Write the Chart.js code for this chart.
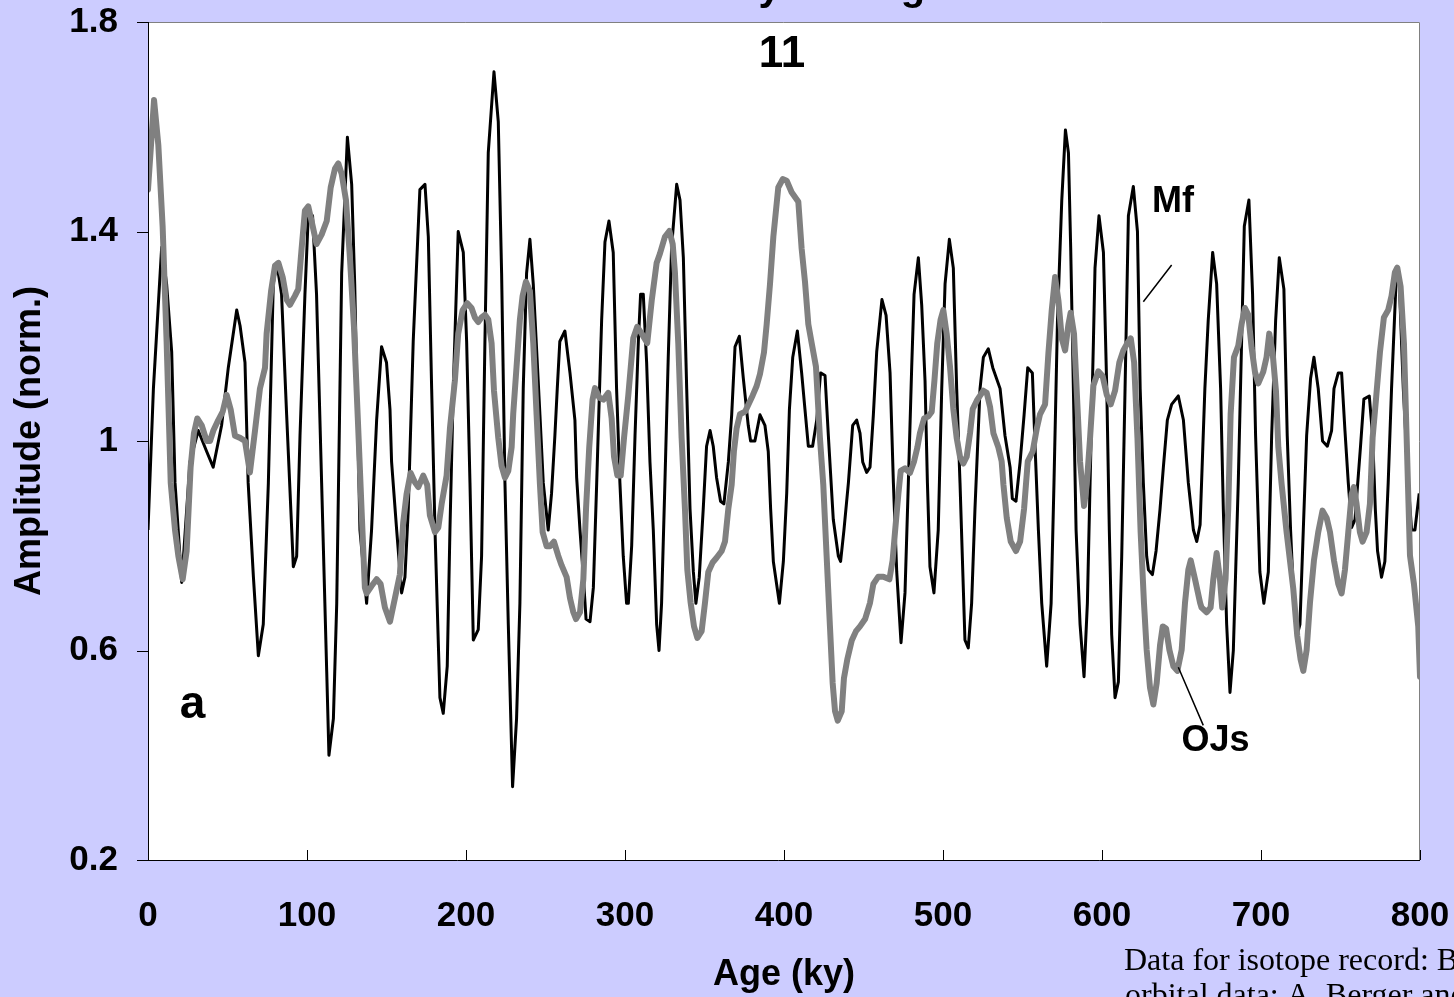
<!DOCTYPE html>
<html>
<head>
<meta charset="utf-8">
<title>Mf and OJs amplitude</title>
<script src="https://cdn.jsdelivr.net/npm/chart.js@4.4.1/dist/chart.umd.min.js"></script>
<style>
  html, body { margin: 0; padding: 0; background: #ccccff; }
  canvas { display: block; }
</style>
</head>
<body>
<canvas id="ampChart" width="1454" height="997"></canvas>
<script>
// Amplitude (norm.) against age (ky)

// Mf - thin black curve
const mfAge = [
  0, 3.4, 8.6, 11.7, 14.9, 17, 21.2, 26.4, 31.6, 36.9, 41, 46.3, 50.5, 55.8, 57.9, 61, 63, 66.3, 69.4, 72.5,
  75.7, 78.8, 81, 84, 87.2, 90.4, 91.4, 93.5, 95.6, 98.7, 100.8, 103.5, 106, 109.2, 112.4, 113.8, 116.6, 118.7, 121.8, 125.4,
  128.1, 130, 133.3, 137.5, 140.6, 143.8, 146.9, 150, 152.2, 153.2, 156.4, 159.5, 161.6, 163.7, 166.8, 171, 174.2, 176.3, 178.4, 180.5,
  183.6, 185.7, 188.2, 189.9, 192, 195.1, 198.3, 200.4, 202.5, 204.6, 207.7, 209.8, 211.9, 214, 217.6, 220.3, 222.4, 224.5, 226.6, 229.3,
  231.8, 233.9, 236, 238.1, 240.2, 242.3, 246.5, 248.6, 251.7, 253.8, 255.9, 257.4, 259, 262.2, 265.4, 268.5, 269.6, 271.7, 273.8, 275.5,
  278, 280.1, 282.2, 285.3, 287.4, 289.9, 292.6, 294.7, 296.8, 298.9, 301, 302.1, 304.2, 306.3, 308.4, 309.8, 311.5, 313.6, 315.7, 317.8,
  319.9, 321.4, 323, 325.1, 327.2, 329.3, 332.5, 334.6, 336.7, 338.8, 340.9, 343, 344.6, 346.7, 349.2, 351.3, 353.5, 355.5, 357.6, 360.1,
  362.2, 365, 367.1, 369.2, 371.9, 374.4, 377.5, 379, 381.7, 384.9, 388, 390.1, 391.6, 393.3, 397.1, 399.6, 401.7, 403.4, 405.5, 408.4,
  411.1, 413.2, 415.3, 418, 420.6, 423, 425.8, 427.9, 431, 434.2, 435.6, 437.7, 440.5, 443.2, 445.7, 447.8, 449.5, 452, 454.1, 456.2,
  458.3, 461.6, 464.2, 466.7, 468.8, 470.9, 473.6, 476.1, 478.2, 480.3, 481.8, 484.5, 486.6, 488.7, 490.2, 491.8, 494.3, 497, 499.2, 501.3,
  504, 506.5, 508.6, 510.7, 513.8, 515.9, 518, 520.1, 523.3, 525.4, 528.5, 531.3, 535.9, 539, 542.2, 543.6, 545.9, 548.5, 551, 553.3,
  556.2, 557.9, 560, 562.1, 565.2, 568, 569.8, 572, 574.7, 577, 578.9, 580.3, 582, 583.7, 586.2, 588.7, 590.8, 592.5, 594.6, 595.6,
  598.1, 600.9, 603, 604.6, 606.1, 608.2, 610.3, 612.4, 614.5, 616.6, 619.7, 622.3, 624, 626, 628.1, 629.2, 631.7, 634, 636.5, 638.6,
  641.1, 643.8, 648, 651.2, 654.3, 657.5, 659.6, 661.7, 664.7, 666.8, 669.6, 672.1, 674.6, 676.3, 678.4, 680.5, 682.6, 685.7, 687.8, 689.5,
  692.4, 694.7, 696.6, 699.3, 701.8, 704.6, 706.7, 709.2, 711.5, 714.4, 716.5, 718.6, 720.7, 722.8, 724.5, 726.6, 728.7, 731.2, 733.3, 736,
  738.7, 741.7, 744.4, 745.9, 748.6, 750.7, 752.8, 754.9, 757, 759.1, 762.6, 764.7, 768.1, 770.2, 771.9, 773.3, 775.8, 777.9, 780, 782.1,
  785.3, 787, 789.5, 792.6, 794.7, 796.8, 799.5
];
const mfAmp = [
  0.83, 1.10, 1.37, 1.30, 1.17, 0.92, 0.73, 0.96, 1.02, 0.98, 0.95, 1.03, 1.14, 1.25, 1.22, 1.15, 0.92, 0.74, 0.59, 0.65,
  0.92, 1.30, 1.34, 1.28, 1.05, 0.83, 0.76, 0.78, 1.01, 1.28, 1.43, 1.43, 1.28, 0.92, 0.56, 0.40, 0.47, 0.69, 1.32, 1.58,
  1.49, 1.30, 0.83, 0.69, 0.83, 1.04, 1.18, 1.15, 1.06, 0.96, 0.83, 0.71, 0.74, 0.87, 1.19, 1.48, 1.49, 1.39, 1.10, 0.83,
  0.51, 0.48, 0.57, 0.83, 1.10, 1.40, 1.36, 1.19, 0.92, 0.62, 0.64, 0.78, 1.19, 1.55, 1.705, 1.61, 1.32, 0.92, 0.65, 0.34,
  0.47, 0.69, 1.10, 1.32, 1.385, 1.30, 1.05, 0.92, 0.83, 0.90, 1.01, 1.10, 1.19, 1.21, 1.13, 1.04, 0.93, 0.83, 0.74, 0.66,
  0.655, 0.72, 0.92, 1.23, 1.38, 1.42, 1.36, 1.10, 0.92, 0.78, 0.69, 0.69, 0.80, 1.01, 1.19, 1.28, 1.28, 1.15, 0.96, 0.83,
  0.65, 0.60, 0.69, 0.92, 1.16, 1.37, 1.49, 1.46, 1.35, 1.10, 0.87, 0.75, 0.69, 0.74, 0.87, 0.99, 1.02, 0.99, 0.93, 0.885,
  0.88, 0.96, 1.05, 1.18, 1.20, 1.12, 1.03, 1.00, 1.00, 1.05, 1.03, 0.98, 0.87, 0.77, 0.69, 0.77, 0.90, 1.06, 1.16, 1.21,
  1.13, 1.06, 0.99, 0.99, 1.04, 1.13, 1.125, 1.01, 0.85, 0.78, 0.77, 0.83, 0.92, 1.03, 1.04, 1.015, 0.96, 0.94, 0.95, 1.05,
  1.17, 1.27, 1.24, 1.13, 0.92, 0.75, 0.615, 0.71, 0.92, 1.14, 1.28, 1.35, 1.26, 1.115, 0.92, 0.76, 0.71, 0.83, 1.10, 1.30,
  1.385, 1.33, 1.10, 0.92, 0.62, 0.605, 0.69, 0.87, 1.10, 1.16, 1.176, 1.14, 1.10, 1.01, 0.95, 0.89, 0.885, 0.96, 1.05, 1.14,
  1.13, 0.99, 0.83, 0.69, 0.57, 0.69, 0.92, 1.23, 1.46, 1.594, 1.55, 1.37, 1.10, 0.83, 0.65, 0.55, 0.69, 0.92, 1.19, 1.33,
  1.43, 1.36, 1.10, 0.83, 0.63, 0.51, 0.54, 0.78, 1.10, 1.43, 1.486, 1.40, 1.10, 0.92, 0.78, 0.754, 0.745, 0.79, 0.87, 0.95,
  1.04, 1.07, 1.086, 1.04, 0.92, 0.83, 0.808, 0.84, 1.10, 1.23, 1.36, 1.30, 1.10, 0.87, 0.65, 0.52, 0.60, 0.92, 1.19, 1.41,
  1.46, 1.28, 1.01, 0.75, 0.69, 0.75, 1.01, 1.23, 1.35, 1.29, 1.01, 0.83, 0.69, 0.63, 0.65, 0.83, 1.01, 1.12, 1.16, 1.10,
  1.00, 0.99, 1.02, 1.10, 1.13, 1.13, 1.02, 0.92, 0.835, 0.85, 0.99, 1.08, 1.086, 1.01, 0.87, 0.79, 0.74, 0.77, 0.92, 1.10,
  1.33, 1.30, 1.10, 0.92, 0.83, 0.83, 0.90
];

// OJs - thick grey curve
const ojsAge = [
  0, 3.8, 6.5, 9.2, 11.7, 14.3, 17, 19.1, 21.8, 24.3, 26.8, 28.9, 31, 33.8, 36.9, 39, 41.1, 44.2, 47, 49.5,
  52, 54.7, 57.9, 61, 64.1, 67.3, 70.4, 73.6, 74.6, 77.4, 79.9, 82, 84.7, 87.2, 89.3, 92.4, 94.5, 96.6, 98.7, 100.8,
  103.6, 106, 109.2, 112.4, 114.9, 117.6, 119.7, 121.8, 124.5, 127, 129.5, 132, 134.3, 136.4, 137.5, 140.6, 143.8, 146.3, 149, 152.2,
  155.3, 158.4, 160.5, 162.6, 165.2, 167.9, 170, 173.1, 175.6, 177.3, 180.5, 182.6, 184.7, 187.8, 189.9, 193, 195.1, 197.9, 200.8, 203.5,
  205.6, 207.7, 209.8, 211.9, 214, 216.1, 217.6, 220.3, 222.4, 224.5, 226.6, 228.7, 229.7, 231.8, 233.9, 235.6, 237.7, 240.2, 242.3, 244.4,
  246.5, 248.2, 250.7, 252.8, 255.3, 258, 260.1, 263.3, 265.4, 267.5, 269.2, 271.7, 273.8, 275.5, 277.5, 279.6, 281.1, 283.8, 286.4, 289.5,
  291.6, 293.1, 295.2, 297.3, 299.4, 302.1, 305.2, 307.7, 310.5, 314, 316.8, 319.9, 322, 325.1, 327.9, 330, 331.4, 333.5, 335.6, 337.7,
  339.2, 341.3, 343.4, 345.5, 348.2, 350.3, 352.4, 355.1, 357.6, 360.8, 362.9, 365, 367.1, 368.5, 370.2, 372.3, 375.5, 377.5, 380.3, 382.8,
  384.9, 387.4, 389.1, 391.2, 393.3, 396.4, 399.2, 401.7, 404.8, 409, 411.1, 413.2, 415.3, 417.4, 420.1, 422.6, 424.7, 426.8, 428.9, 430.6,
  432.1, 433.8, 436.3, 437.7, 439.8, 442.6, 445.3, 447.8, 451, 454.1, 456.2, 459.3, 462.5, 466.3, 468.3, 469.8, 471.9, 473.4, 476.1, 479.2,
  481.8, 483.9, 485.5, 488.1, 490.8, 492.9, 494.6, 496.4, 498.5, 500.2, 502.3, 504.4, 506.5, 508.6, 510.7, 512.8, 514.9, 517, 518.7, 521.6,
  525.4, 527.5, 529.6, 531.7, 534.8, 536.9, 538, 540.1, 542.6, 545.9, 548.5, 551, 553.3, 556.4, 559, 561, 564.2, 566.3, 568.4, 570.5,
  572.6, 574.7, 576.8, 578.9, 580.3, 582.4, 584.1, 586.2, 588.7, 590.4, 592.5, 594.6, 597.7, 600.4, 603, 605.5, 608.2, 610.9, 613.4, 616,
  618.1, 620.2, 622.3, 624.3, 626.4, 628.1, 630.2, 632.3, 634.4, 636.5, 638.2, 640.3, 642.4, 644.9, 647.4, 650.1, 652.2, 654.3, 655.8, 658.5,
  661.7, 662.6, 665.8, 668.3, 670, 672.1, 674.2, 675.6, 677.7, 679.4, 680.9, 683, 685.7, 687.8, 689.9, 692, 694.1, 696.2, 698.3, 701.4,
  703.5, 705.2, 707.3, 709.4, 710.9, 713, 716.1, 718.2, 720.3, 722.8, 724.9, 726.6, 728.7, 730.8, 733.3, 736, 738.7, 741.3, 743.4, 745.9,
  748.6, 750.7, 752.8, 754.9, 757, 758.4, 760.1, 762.2, 763.9, 766.4, 768.5, 770.2, 772.3, 774.8, 777.3, 780, 782.1, 784.2, 785.7, 787.8,
  789.9, 791.6, 793.7, 796.2, 798.9, 800
];
const ojsAmp = [
  1.48, 1.651, 1.565, 1.41, 1.19, 0.92, 0.83, 0.78, 0.736, 0.79, 0.95, 1.015, 1.043, 1.03, 1.00, 1.00, 1.02, 1.04, 1.056, 1.088,
  1.06, 1.01, 1.006, 1.00, 0.94, 1.02, 1.10, 1.14, 1.205, 1.286, 1.335, 1.34, 1.313, 1.27, 1.26, 1.277, 1.29, 1.367, 1.44, 1.448,
  1.41, 1.376, 1.394, 1.42, 1.484, 1.52, 1.53, 1.51, 1.46, 1.35, 1.22, 1.04, 0.87, 0.72, 0.709, 0.723, 0.736, 0.727, 0.682, 0.655,
  0.70, 0.745, 0.844, 0.898, 0.939, 0.921, 0.912, 0.934, 0.916, 0.858, 0.826, 0.835, 0.88, 0.934, 1.024, 1.115, 1.205, 1.25, 1.263, 1.254,
  1.236, 1.227, 1.236, 1.241, 1.232, 1.187, 1.096, 1.006, 0.952, 0.93, 0.943, 0.988, 1.052, 1.142, 1.232, 1.277, 1.304, 1.286, 1.187, 1.05,
  0.917, 0.826, 0.799, 0.799, 0.808, 0.781, 0.763, 0.74, 0.70, 0.673, 0.66, 0.673, 0.736, 0.871, 0.988, 1.079, 1.101, 1.083, 1.079, 1.092,
  1.043, 0.97, 0.934, 0.934, 1.006, 1.088, 1.196, 1.218, 1.205, 1.187, 1.268, 1.34, 1.358, 1.39, 1.401, 1.376, 1.322, 1.187, 1.006, 0.871,
  0.754, 0.691, 0.646, 0.624, 0.637, 0.691, 0.75, 0.768, 0.777, 0.79, 0.808, 0.871, 0.917, 0.98, 1.024, 1.051, 1.056, 1.069, 1.087, 1.105,
  1.128, 1.169, 1.223, 1.30, 1.39, 1.484, 1.50, 1.497, 1.475, 1.457, 1.367, 1.304, 1.223, 1.187, 1.142, 1.006, 0.917, 0.781, 0.646, 0.538,
  0.484, 0.466, 0.484, 0.547, 0.583, 0.619, 0.637, 0.646, 0.66, 0.691, 0.727, 0.741, 0.741, 0.736, 0.772, 0.826, 0.898, 0.943, 0.948, 0.939,
  0.961, 0.988, 1.015, 1.043, 1.047, 1.056, 1.115, 1.187, 1.232, 1.25, 1.205, 1.142, 1.061, 1.006, 0.97, 0.957, 0.97, 1.015, 1.061, 1.079,
  1.096, 1.092, 1.065, 1.015, 0.988, 0.961, 0.917, 0.853, 0.808, 0.79, 0.808, 0.871, 0.961, 0.98, 1.024, 1.051, 1.07, 1.168, 1.25, 1.313,
  1.268, 1.196, 1.173, 1.223, 1.245, 1.205, 1.096, 0.961, 0.876, 0.917, 1.006, 1.106, 1.133, 1.124, 1.088, 1.07, 1.096, 1.15, 1.173, 1.187,
  1.196, 1.15, 1.006, 0.826, 0.691, 0.601, 0.529, 0.497, 0.538, 0.61, 0.646, 0.642, 0.601, 0.57, 0.561, 0.601, 0.691, 0.754, 0.772, 0.736,
  0.691, 0.682, 0.673, 0.682, 0.736, 0.786, 0.736, 0.682, 0.736, 0.871, 1.051, 1.16, 1.182, 1.223, 1.254, 1.241, 1.178, 1.132, 1.11, 1.132,
  1.16, 1.205, 1.169, 1.096, 0.988, 0.917, 0.826, 0.772, 0.718, 0.628, 0.583, 0.561, 0.601, 0.691, 0.772, 0.826, 0.867, 0.853, 0.826, 0.772,
  0.727, 0.709, 0.754, 0.826, 0.898, 0.912, 0.88, 0.826, 0.808, 0.826, 0.88, 1.006, 1.079, 1.169, 1.236, 1.25, 1.277, 1.322, 1.331, 1.295,
  1.187, 1.006, 0.781, 0.727, 0.646, 0.55
];

// axis settings
const ageMin = 0, ageMax = 800, ageStep = 100;
const ampMin = 0.2, ampMax = 1.8, ampStep = 0.4;

const sansBold = (size) => ({ family: "'Liberation Sans', Arial, sans-serif", size: size, weight: 'bold' });

function toPoints(xs, ys) {
    return xs.map((v, i) => ({ x: v, y: ys[i] }));
}

// draws the lavender page, white plot, frame, tick marks and labels
const decorPlugin = {
    id: 'decor',
    beforeDraw(chart) {
        const { ctx, chartArea: a } = chart;
        ctx.save();
        ctx.fillStyle = '#ccccff';
        ctx.fillRect(0, 0, chart.width, chart.height);
        ctx.fillStyle = '#ffffff';
        ctx.fillRect(a.left, a.top, a.right - a.left, a.bottom - a.top);
        ctx.restore();
    },
    afterDraw(chart) {
        const { ctx, chartArea: a } = chart;
        const x = chart.scales.x, y = chart.scales.y;
        ctx.save();

        // top and right border
        ctx.lineWidth = 1;
        ctx.strokeStyle = '#808080';
        ctx.beginPath();
        ctx.moveTo(a.left, a.top + 0.5);
        ctx.lineTo(a.right - 0.5, a.top + 0.5);
        ctx.lineTo(a.right - 0.5, a.bottom);
        ctx.stroke();

        // axes and ticks
        ctx.strokeStyle = '#000000';
        ctx.beginPath();
        ctx.moveTo(a.left + 0.5, a.top);
        ctx.lineTo(a.left + 0.5, a.bottom);
        ctx.moveTo(a.left - 11, a.bottom + 0.5);
        ctx.lineTo(a.right, a.bottom + 0.5);
        y.ticks.forEach(t => {
            const py = Math.round(y.getPixelForValue(t.value)) + 0.5;
            ctx.moveTo(a.left - 11, py);
            ctx.lineTo(a.left, py);
        });
        x.ticks.forEach(t => {
            const px = Math.round(x.getPixelForValue(t.value)) + 0.5;
            ctx.moveTo(px, a.bottom);
            ctx.lineTo(px, a.bottom - 10);
        });
        ctx.stroke();

        // leader lines for the curve labels
        ctx.lineWidth = 1.5;
        ctx.beginPath();
        ctx.moveTo(x.getPixelForValue(643.8), y.getPixelForValue(1.336));
        ctx.lineTo(x.getPixelForValue(626), y.getPixelForValue(1.266));
        ctx.moveTo(x.getPixelForValue(648), y.getPixelForValue(0.568));
        ctx.lineTo(x.getPixelForValue(663.7), y.getPixelForValue(0.457));
        ctx.stroke();

        // text labels
        ctx.fillStyle = '#000000';
        ctx.textBaseline = 'alphabetic';
        const put = (txt, age, amp, size, align) => {
            const f = sansBold(size);
            ctx.font = `${f.weight} ${f.size}px ${f.family}`;
            ctx.textAlign = align;
            ctx.fillText(txt, x.getPixelForValue(age), y.getPixelForValue(amp));
        };
        put('Mf', 631.4, 1.437, 36, 'left');
        put('OJs', 650, 0.408, 36, 'left');
        put('a', 20, 0.471, 46, 'left');
        put('11', 398.7, 1.714, 44, 'center');

        // title, mostly above the top edge of the page
        ctx.font = "bold 40px 'Liberation Sans', Arial, sans-serif";
        ctx.textAlign = 'center';
        ctx.fillText('Ice history at Stage', x.getPixelForValue(387.4), 0);

        // source note, runs off the page
        ctx.font = "32px 'Liberation Serif', 'Times New Roman', serif";
        ctx.textAlign = 'left';
        ctx.fillText('Data for isotope record: Bassinot et al., 1994', 1124, 970);
        ctx.fillText('orbital data: A. Berger and M.F. Loutre, 1991', 1125, 1005);

        ctx.restore();
    }
};

function createAmpChart() {
    const canvas = document.getElementById('ampChart');
    const ctx = canvas.getContext('2d');

    return new Chart(ctx, {
        type: 'line',
        data: {
            datasets: [
                {
                    label: 'OJs',
                    data: toPoints(ojsAge, ojsAmp),
                    borderColor: '#808080',
                    borderWidth: 6,
                    borderJoinStyle: 'round',
                    borderCapStyle: 'round',
                    pointRadius: 0,
                    tension: 0,
                    fill: false
                },
                {
                    label: 'Mf',
                    data: toPoints(mfAge, mfAmp),
                    borderColor: '#000000',
                    borderWidth: 3,
                    borderJoinStyle: 'round',
                    pointRadius: 0,
                    tension: 0,
                    fill: false
                }
            ]
        },
        options: {
            responsive: false,
            animation: false,
            devicePixelRatio: 1,
            layout: { padding: { top: 22, right: 34, bottom: 0, left: 0 } },
            plugins: {
                legend: { display: false },
                tooltip: { enabled: false },
                title: { display: false }
            },
            scales: {
                x: {
                    type: 'linear',
                    min: ageMin,
                    max: ageMax,
                    grid: { display: false, drawTicks: false },
                    border: { display: false },
                    ticks: {
                        stepSize: ageStep,
                        color: '#000000',
                        font: sansBold(35),
                        padding: 35,
                        maxRotation: 0,
                        autoSkip: false
                    },
                    title: {
                        display: true,
                        text: 'Age (ky)',
                        color: '#000000',
                        font: sansBold(36),
                        padding: { top: 0, bottom: 0 }
                    },
                    afterFit(scale) {
                        scale.height = 137;
                        scale.paddingLeft = 0;
                        scale.paddingRight = 0;
                    }
                },
                y: {
                    type: 'linear',
                    min: ampMin,
                    max: ampMax,
                    grid: { display: false, drawTicks: false },
                    border: { display: false },
                    ticks: {
                        stepSize: ampStep,
                        color: '#000000',
                        font: sansBold(35),
                        padding: 30,
                        callback: (v) => String(Number(v.toFixed(1)))
                    },
                    title: {
                        display: true,
                        text: 'Amplitude (norm.)',
                        color: '#000000',
                        font: sansBold(36),
                        padding: { top: 8, bottom: 0 }
                    },
                    afterFit(scale) {
                        scale.width = 148;
                        scale.paddingTop = 0;
                        scale.paddingBottom = 0;
                    }
                }
            }
        },
        plugins: [decorPlugin]
    });
}

createAmpChart();
</script>
</body>
</html>
